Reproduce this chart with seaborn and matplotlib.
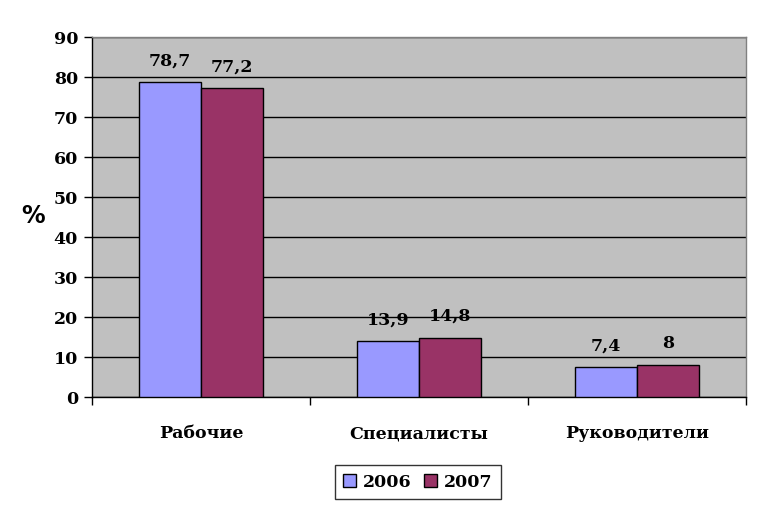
import pandas as pd
import matplotlib.pyplot as plt
import seaborn as sns
from matplotlib.ticker import FixedLocator

categories = ["Рабочие", "Специалисты", "Руководители"]
years = ["2006", "2007"]
values_2006 = [78.7, 13.9, 7.4]
values_2007 = [77.2, 14.8, 8.0]
labels_2006 = ["78,7", "13,9", "7,4"]
labels_2007 = ["77,2", "14,8", "8"]

df = pd.DataFrame({
    "cat": categories * 2,
    "year": [years[0]] * 3 + [years[1]] * 3,
    "val": values_2006 + values_2007,
})

sns.set_style("white")
plt.rcParams["font.family"] = ["DejaVu Serif"]
plt.rcParams["font.weight"] = "bold"
plt.rcParams["text.color"] = "black"
plt.rcParams["xtick.color"] = "black"
plt.rcParams["ytick.color"] = "black"
plt.rcParams["axes.labelcolor"] = "black"

fig = plt.figure(figsize=(7.64, 5.10), dpi=100)
ax = fig.add_axes([92 / 764, 1 - 398 / 510, (746 - 92) / 764, (398 - 38) / 510])
ax.set_facecolor("#C0C0C0")

sns.barplot(data=df, x="cat", y="val", hue="year", order=categories,
            palette=["#9999FF", "#993366"], saturation=1, width=0.57, gap=0,
            edgecolor="black", linewidth=1, ax=ax, zorder=3)

# value labels
for cont, labs in zip(ax.containers, [labels_2006, labels_2007]):
    for bar, lab in zip(cont, labs):
        ax.annotate(lab, (bar.get_x() + bar.get_width() / 2, bar.get_height()),
                    xytext=(0, 10), textcoords="offset points",
                    ha="center", va="bottom", fontsize=12.5, fontweight="bold")

ax.set_ylim(0, 90)
ax.set_yticks(range(0, 91, 10))
ax.set_xlim(-0.5, 2.5)
ax.yaxis.grid(True, color="black", linewidth=1, zorder=0)
ax.set_axisbelow(True)

ax.tick_params(axis="y", left=True, length=6, width=1, color="black",
               labelsize=12.5, pad=4)
ax.tick_params(axis="x", which="major", bottom=False, labelsize=12.5, pad=16)
ax.xaxis.set_minor_locator(FixedLocator([-0.5, 0.5, 1.5, 2.5]))
ax.tick_params(axis="x", which="minor", bottom=True, length=6, width=1,
               color="black")
for lbl in ax.get_xticklabels() + ax.get_yticklabels():
    lbl.set_fontweight("bold")

ax.set_xlabel("")
ax.set_ylabel("%", rotation=0, fontsize=17, fontweight="bold",
              family="DejaVu Sans", va="center")
ax.yaxis.set_label_coords(-0.09, 0.505)

for side in ["left", "bottom"]:
    ax.spines[side].set_color("black")
    ax.spines[side].set_linewidth(1)
for side in ["top", "right"]:
    ax.spines[side].set_color("#808080")
    ax.spines[side].set_linewidth(1)

leg = ax.legend(title=None, loc="center", bbox_to_anchor=(418 / 764, 1 - 483 / 510),
                bbox_transform=fig.transFigure, ncol=2, frameon=True,
                fancybox=False, edgecolor="black", fontsize=12.5,
                handlelength=0.75, handleheight=0.75, handletextpad=0.4,
                columnspacing=0.7, borderpad=0.5)
leg.get_frame().set_linewidth(1)
for t in leg.get_texts():
    t.set_fontweight("bold")

fig.savefig("out.png", dpi=100)
